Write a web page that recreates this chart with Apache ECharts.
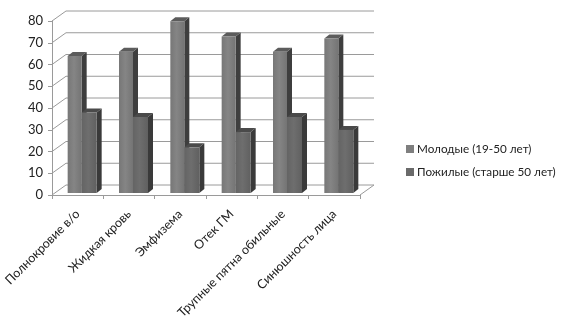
<!DOCTYPE html>
<html>
<head>
<meta charset="utf-8">
<script src="https://cdn.jsdelivr.net/npm/echarts@6/dist/echarts.min.js"></script>
<style>html,body{margin:0;padding:0;background:#fff}#c{width:563px;height:317px}</style>
</head>
<body>
<div id="c"></div>
<script>
var categories = ['Полнокровие в/о', 'Жидкая кровь', 'Эмфизема', 'Отек ГМ', 'Трупные пятна обильные', 'Синюшность лица'];
var youngName = 'Молодые (19-50 лет)';
var oldName = 'Пожилые (старше 50 лет)';
var youngValues = [63, 65, 79, 72, 65, 71];
var oldValues = [37, 35, 21, 28, 35, 29];
var yTicks = [0, 10, 20, 30, 40, 50, 60, 70, 80];

var FONT = 'Lato';
var DX = 14, DY = -10;      // wall depth offset
var BDX = 5, BDY = -4;      // bar depth offset
var LIFT = 2;               // bars sit slightly behind front edge

function wallRender(params, api) {
  var cs = params.coordSys;
  var v = api.value(0);
  var y = api.coord([0, v])[1];
  var gx = cs.x, gw = cs.width;
  var children = [{
    type: 'polyline',
    shape: { points: [[gx, y], [gx + DX, y + DY], [gx + gw + DX, y + DY]] },
    style: { stroke: '#9a9a9a', lineWidth: 1, fill: null }
  }];
  if (v === 0) {
    children.push({
      type: 'line',
      shape: { x1: gx + gw, y1: y, x2: gx + gw + DX, y2: y + DY },
      style: { stroke: '#9a9a9a', lineWidth: 1 }
    });
  }
  return { type: 'group', silent: true, children: children };
}

function makeBarRender(offA, offB, front, top, side) {
  return function (params, api) {
    var i = api.value(0), v = api.value(1);
    var c = api.coord([i, v]);
    var b = api.coord([i, 0]);
    var x1 = c[0] + offA, x2 = c[0] + offB;
    var yt = c[1] - LIFT, yb = b[1] - LIFT;
    return {
      type: 'group',
      children: [
        { type: 'polygon', shape: { points: [[x2, yt], [x2 + BDX, yt + BDY], [x2 + BDX, yb + BDY], [x2, yb]] }, style: { fill: side } },
        { type: 'polygon', shape: { points: [[x1, yt], [x1 + BDX, yt + BDY], [x2 + BDX, yt + BDY], [x2, yt]] }, style: { fill: top } },
        { type: 'rect', shape: { x: x1, y: yt, width: x2 - x1, height: yb - yt }, style: { fill: front } }
      ]
    };
  };
}

function grad(a, b, c) {
  return new echarts.graphic.LinearGradient(0, 0, 1, 0, [
    { offset: 0, color: a }, { offset: 0.45, color: b }, { offset: 1, color: c }
  ]);
}

var chart = echarts.init(document.getElementById('c'), null, { renderer: 'canvas' });
chart.setOption({
  animation: false,
  backgroundColor: '#ffffff',
  textStyle: { fontFamily: FONT },
  grid: { left: 52, top: 21, width: 308, height: 174, containLabel: false, outerBoundsMode: 'none' },
  legend: {
    orient: 'vertical',
    left: 401, top: 138,
    itemWidth: 8, itemHeight: 8, itemGap: 11,
    icon: 'rect',
    textStyle: { fontFamily: FONT, fontSize: 11.7, color: '#222', padding: [0, 0, 0, -2] },
    data: [youngName, oldName]
  },
  xAxis: {
    type: 'category',
    data: categories,
    axisLine: { lineStyle: { color: '#9a9a9a' } },
    axisTick: { show: true, length: 4, lineStyle: { color: '#9a9a9a' } },
    axisLabel: { rotate: 45, margin: 17, fontSize: 12.5, color: '#222', fontFamily: FONT, interval: 0 },
    splitLine: { show: false }
  },
  yAxis: {
    type: 'value', min: 0, max: 80, interval: 10,
    axisLine: { show: true, lineStyle: { color: '#9a9a9a' } },
    axisTick: { show: true, length: 4, lineStyle: { color: '#9a9a9a' } },
    axisLabel: { margin: 9, fontSize: 13, color: '#222', fontFamily: FONT },
    splitLine: { show: false }
  },
  series: [
    {
      type: 'custom', name: 'walls', renderItem: wallRender, z: 1,
      data: yTicks.map(function (v) { return [v]; }),
      encode: { y: 0 }, silent: true
    },
    {
      type: 'custom', name: youngName, z: 2,
      itemStyle: { color: '#7f7f7f' },
      renderItem: makeBarRender(-10, 4, grad('#777777', '#858585', '#747474'), '#5c5c5c', '#3e3e3e'),
      data: youngValues.map(function (v, i) { return [i, v]; }),
      encode: { x: 0, y: 1 }
    },
    {
      type: 'custom', name: oldName, z: 3,
      itemStyle: { color: '#6a6a6a' },
      renderItem: makeBarRender(4, 19, grad('#646464', '#6e6e6e', '#606060'), '#4a4a4a', '#3a3a3a'),
      data: oldValues.map(function (v, i) { return [i, v]; }),
      encode: { x: 0, y: 1 }
    }
  ]
});
</script>
</body>
</html>
